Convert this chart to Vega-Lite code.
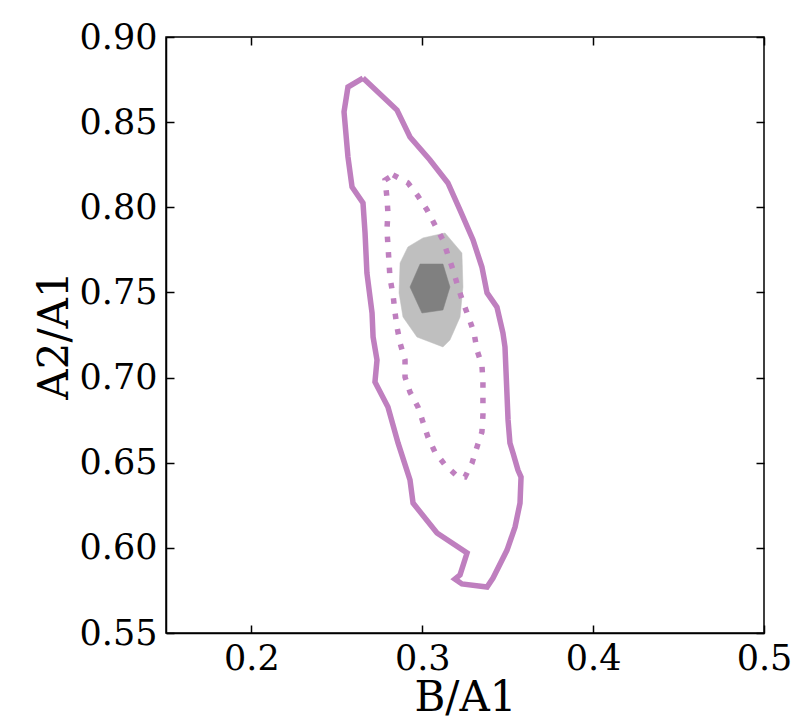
{
  "$schema": "https://vega.github.io/schema/vega-lite/v6.json",
  "width": 598,
  "height": 596,
  "autosize": {"type": "none"},
  "padding": {"left": 166, "top": 37, "right": 42, "bottom": 87},
  "background": "white",
  "config": {
    "view": {"stroke": "black", "strokeWidth": 1.5},
    "axis": {
      "labelFont": "DejaVu Serif", "labelFontSize": 35, "labelColor": "black",
      "titleFont": "DejaVu Serif", "titleFontSize": 42, "titleFontWeight": "normal", "titleColor": "black",
      "tickColor": "black", "tickWidth": 1.5, "tickSize": -8, "domainColor": "black", "domainWidth": 1.5,
      "grid": false, "labelFlush": false, "labelOverlap": false, "labelPadding": 16
    }
  },
  "datasets": {
    "light": [
      {"i":0,"x":0.3133,"y":0.7849},{"i":1,"x":0.3232,"y":0.7732},{"i":2,"x":0.3238,"y":0.7532},
      {"i":3,"x":0.3221,"y":0.7356},{"i":4,"x":0.3162,"y":0.7221},{"i":5,"x":0.3121,"y":0.7180},
      {"i":6,"x":0.2969,"y":0.7238},{"i":7,"x":0.2887,"y":0.7356},{"i":8,"x":0.2864,"y":0.7497},
      {"i":9,"x":0.2870,"y":0.7673},{"i":10,"x":0.2916,"y":0.7767},{"i":11,"x":0.3004,"y":0.7820},
      {"i":12,"x":0.3133,"y":0.7849}
    ],
    "dark": [
      {"i":0,"x":0.2987,"y":0.7667},{"i":1,"x":0.3121,"y":0.7667},{"i":2,"x":0.3162,"y":0.7532},
      {"i":3,"x":0.3121,"y":0.7397},{"i":4,"x":0.2998,"y":0.7379},{"i":5,"x":0.2928,"y":0.7532},
      {"i":6,"x":0.2987,"y":0.7667}
    ],
    "outer": [
      {"i":0,"x":0.2653,"y":0.8759},{"i":1,"x":0.2852,"y":0.8571},{"i":2,"x":0.2928,"y":0.8413},
      {"i":3,"x":0.3045,"y":0.8278},{"i":4,"x":0.3150,"y":0.8143},{"i":5,"x":0.3221,"y":0.7984},
      {"i":6,"x":0.3297,"y":0.7808},{"i":7,"x":0.3349,"y":0.7649},{"i":8,"x":0.3379,"y":0.7497},
      {"i":9,"x":0.3437,"y":0.7414},{"i":10,"x":0.3472,"y":0.7262},{"i":11,"x":0.3484,"y":0.7180},
      {"i":12,"x":0.3502,"y":0.6751},{"i":13,"x":0.3513,"y":0.6616},{"i":14,"x":0.3531,"y":0.6557},
      {"i":15,"x":0.3560,"y":0.6457},{"i":16,"x":0.3578,"y":0.6416},{"i":17,"x":0.3572,"y":0.6263},
      {"i":18,"x":0.3543,"y":0.6123},{"i":19,"x":0.3496,"y":0.5987},{"i":20,"x":0.3414,"y":0.5823},
      {"i":21,"x":0.3379,"y":0.5770},{"i":22,"x":0.3232,"y":0.5788},{"i":23,"x":0.3191,"y":0.5817},
      {"i":24,"x":0.3221,"y":0.5841},{"i":25,"x":0.3262,"y":0.5970},{"i":26,"x":0.3086,"y":0.6087},
      {"i":27,"x":0.2946,"y":0.6263},{"i":28,"x":0.2928,"y":0.6399},{"i":29,"x":0.2858,"y":0.6616},
      {"i":30,"x":0.2799,"y":0.6827},{"i":31,"x":0.2723,"y":0.6974},{"i":32,"x":0.2735,"y":0.7103},
      {"i":33,"x":0.2712,"y":0.7238},{"i":34,"x":0.2706,"y":0.7379},{"i":35,"x":0.2676,"y":0.7614},
      {"i":36,"x":0.2665,"y":0.7849},{"i":37,"x":0.2653,"y":0.8025},{"i":38,"x":0.2589,"y":0.8119},
      {"i":39,"x":0.2565,"y":0.8295},{"i":40,"x":0.2542,"y":0.8560},{"i":41,"x":0.2565,"y":0.8706},
      {"i":42,"x":0.2653,"y":0.8759}
    ],
    "inner": [
      {"i":0,"x":0.2829,"y":0.8190},{"i":1,"x":0.2916,"y":0.8143},{"i":2,"x":0.2975,"y":0.8066},
      {"i":3,"x":0.3028,"y":0.7984},{"i":4,"x":0.3074,"y":0.7896},{"i":5,"x":0.3121,"y":0.7808},
      {"i":6,"x":0.3150,"y":0.7720},{"i":7,"x":0.3180,"y":0.7632},{"i":8,"x":0.3209,"y":0.7532},
      {"i":9,"x":0.3238,"y":0.7444},{"i":10,"x":0.3273,"y":0.7350},{"i":11,"x":0.3303,"y":0.7262},
      {"i":12,"x":0.3320,"y":0.7162},{"i":13,"x":0.3349,"y":0.7074},{"i":14,"x":0.3355,"y":0.6974},
      {"i":15,"x":0.3355,"y":0.6880},{"i":16,"x":0.3355,"y":0.6780},{"i":17,"x":0.3349,"y":0.6680},
      {"i":18,"x":0.3320,"y":0.6592},{"i":19,"x":0.3291,"y":0.6498},{"i":20,"x":0.3250,"y":0.6416},
      {"i":21,"x":0.3209,"y":0.6416},{"i":22,"x":0.3133,"y":0.6487},{"i":23,"x":0.3074,"y":0.6563},
      {"i":24,"x":0.3033,"y":0.6651},{"i":25,"x":0.3004,"y":0.6739},{"i":26,"x":0.2975,"y":0.6827},
      {"i":27,"x":0.2928,"y":0.6915},{"i":28,"x":0.2899,"y":0.7003},{"i":29,"x":0.2899,"y":0.7103},
      {"i":30,"x":0.2870,"y":0.7203},{"i":31,"x":0.2852,"y":0.7297},{"i":32,"x":0.2840,"y":0.7385},
      {"i":33,"x":0.2829,"y":0.7485},{"i":34,"x":0.2811,"y":0.7585},{"i":35,"x":0.2799,"y":0.7779},
      {"i":36,"x":0.2793,"y":0.7867},{"i":37,"x":0.2799,"y":0.7966},{"i":38,"x":0.2793,"y":0.8060},
      {"i":39,"x":0.2782,"y":0.8160},{"i":40,"x":0.2829,"y":0.8190}
    ]
  },
  "layer": [
    {
      "layer": [
        {
          "data": {"name": "light"},
          "mark": {"type": "line", "fill": "#bfbfbf", "stroke": "#bfbfbf", "strokeWidth": 0.5},
          "encoding": {
            "x": {"field": "x", "type": "quantitative"},
            "y": {"field": "y", "type": "quantitative"},
            "order": {"field": "i", "type": "quantitative"}
          }
        },
        {
          "data": {"name": "dark"},
          "mark": {"type": "line", "fill": "#808080", "stroke": "#808080", "strokeWidth": 0.5},
          "encoding": {
            "x": {"field": "x", "type": "quantitative"},
            "y": {"field": "y", "type": "quantitative"},
            "order": {"field": "i", "type": "quantitative"}
          }
        },
        {
          "data": {"name": "outer"},
          "mark": {"type": "line", "stroke": "#bf7fbf", "strokeWidth": 5.5, "strokeJoin": "miter"},
          "encoding": {
            "x": {"field": "x", "type": "quantitative"},
            "y": {"field": "y", "type": "quantitative"},
            "order": {"field": "i", "type": "quantitative"}
          }
        },
        {
          "data": {"name": "inner"},
          "mark": {"type": "line", "stroke": "#bf7fbf", "strokeWidth": 5.5, "strokeDash": [5.5, 10], "strokeCap": "butt"},
          "encoding": {
            "x": {"field": "x", "type": "quantitative", "scale": {"domain": [0.15, 0.5], "nice": false, "zero": false},
              "axis": {"values": [0.2, 0.3, 0.4, 0.5], "format": ".1f", "title": "B/A1", "titlePadding": 1}},
            "y": {"field": "y", "type": "quantitative", "scale": {"domain": [0.55, 0.9], "nice": false, "zero": false},
              "axis": {"values": [0.55, 0.6, 0.65, 0.7, 0.75, 0.8, 0.85, 0.9], "format": ".2f", "title": "A2/A1", "titlePadding": 3, "labelPadding": 17}},
            "order": {"field": "i", "type": "quantitative"}
          }
        }
      ]
    },
    {
      "data": {"name": "dark"},
      "mark": {"type": "point", "opacity": 0},
      "encoding": {
        "x": {"field": "x", "type": "quantitative", "scale": {"domain": [0.15, 0.5], "nice": false, "zero": false},
          "axis": {"orient": "top", "values": [0.2, 0.3, 0.4, 0.5], "labels": false, "title": null, "domain": false}},
        "y": {"field": "y", "type": "quantitative", "scale": {"domain": [0.55, 0.9], "nice": false, "zero": false},
          "axis": {"orient": "right", "values": [0.55, 0.6, 0.65, 0.7, 0.75, 0.8, 0.85, 0.9], "labels": false, "title": null, "domain": false}}
      }
    }
  ],
  "resolve": {"scale": {"x": "independent", "y": "independent"}}
}
